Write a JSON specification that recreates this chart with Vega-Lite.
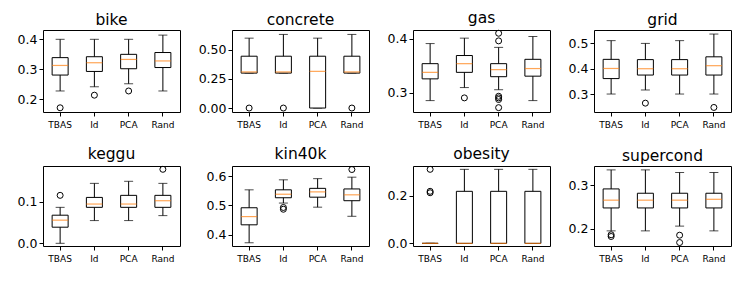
{
  "$schema": "https://vega.github.io/schema/vega-lite/v6.json",
  "background": "white",
  "padding": {"left": 16, "top": 10, "right": 8, "bottom": 4},
  "columns": 4,
  "spacing": {"row": 16, "column": 16},
  "config": {
    "font": "DejaVu Sans",
    "view": {"stroke": "black", "strokeWidth": 1},
    "axis": {"grid": false, "domain": false, "tickColor": "black", "tickSize": 4, "labelColor": "black", "labelFont": "DejaVu Sans", "labelOverlap": false},
    "axisY": {"labelFontSize": 12.5, "labelPadding": 2},
    "axisX": {"labelFontSize": 9, "labelPadding": 4},
    "title": {"fontSize": 15.5, "fontWeight": "normal", "color": "black", "offset": 2, "font": "DejaVu Sans"}
  },
  "datasets": {
    "boxes": [
      {"ds": "bike", "m": "TBAS", "lo": 0.228, "q1": 0.281, "med": 0.313, "q3": 0.339, "hi": 0.400},
      {"ds": "bike", "m": "Id", "lo": 0.242, "q1": 0.293, "med": 0.322, "q3": 0.342, "hi": 0.400},
      {"ds": "bike", "m": "PCA", "lo": 0.252, "q1": 0.302, "med": 0.333, "q3": 0.350, "hi": 0.400},
      {"ds": "bike", "m": "Rand", "lo": 0.228, "q1": 0.306, "med": 0.328, "q3": 0.356, "hi": 0.414},
      {"ds": "concrete", "m": "TBAS", "lo": 0.300, "q1": 0.300, "med": 0.310, "q3": 0.445, "hi": 0.600},
      {"ds": "concrete", "m": "Id", "lo": 0.300, "q1": 0.300, "med": 0.310, "q3": 0.445, "hi": 0.632},
      {"ds": "concrete", "m": "PCA", "lo": 0.000, "q1": 0.000, "med": 0.315, "q3": 0.445, "hi": 0.600},
      {"ds": "concrete", "m": "Rand", "lo": 0.300, "q1": 0.300, "med": 0.310, "q3": 0.445, "hi": 0.632},
      {"ds": "gas", "m": "TBAS", "lo": 0.286, "q1": 0.326, "med": 0.338, "q3": 0.354, "hi": 0.391},
      {"ds": "gas", "m": "Id", "lo": 0.310, "q1": 0.338, "med": 0.354, "q3": 0.369, "hi": 0.401},
      {"ds": "gas", "m": "PCA", "lo": 0.306, "q1": 0.330, "med": 0.343, "q3": 0.354, "hi": 0.384},
      {"ds": "gas", "m": "Rand", "lo": 0.286, "q1": 0.331, "med": 0.345, "q3": 0.362, "hi": 0.404},
      {"ds": "grid", "m": "TBAS", "lo": 0.300, "q1": 0.361, "med": 0.401, "q3": 0.437, "hi": 0.511},
      {"ds": "grid", "m": "Id", "lo": 0.316, "q1": 0.375, "med": 0.400, "q3": 0.436, "hi": 0.500},
      {"ds": "grid", "m": "PCA", "lo": 0.300, "q1": 0.375, "med": 0.400, "q3": 0.436, "hi": 0.511},
      {"ds": "grid", "m": "Rand", "lo": 0.300, "q1": 0.375, "med": 0.412, "q3": 0.447, "hi": 0.537},
      {"ds": "keggu", "m": "TBAS", "lo": 0.000, "q1": 0.039, "med": 0.056, "q3": 0.068, "hi": 0.087},
      {"ds": "keggu", "m": "Id", "lo": 0.055, "q1": 0.087, "med": 0.095, "q3": 0.111, "hi": 0.145},
      {"ds": "keggu", "m": "PCA", "lo": 0.055, "q1": 0.087, "med": 0.095, "q3": 0.116, "hi": 0.150},
      {"ds": "keggu", "m": "Rand", "lo": 0.067, "q1": 0.087, "med": 0.103, "q3": 0.116, "hi": 0.145},
      {"ds": "kin40k", "m": "TBAS", "lo": 0.373, "q1": 0.434, "med": 0.462, "q3": 0.492, "hi": 0.553},
      {"ds": "kin40k", "m": "Id", "lo": 0.508, "q1": 0.526, "med": 0.538, "q3": 0.553, "hi": 0.587},
      {"ds": "kin40k", "m": "PCA", "lo": 0.494, "q1": 0.528, "med": 0.546, "q3": 0.558, "hi": 0.591},
      {"ds": "kin40k", "m": "Rand", "lo": 0.463, "q1": 0.516, "med": 0.536, "q3": 0.556, "hi": 0.596},
      {"ds": "obesity", "m": "TBAS", "lo": 0.0, "q1": 0.0, "med": 0.0, "q3": 0.0, "hi": 0.0},
      {"ds": "obesity", "m": "Id", "lo": 0.0, "q1": 0.0, "med": 0.0, "q3": 0.218, "hi": 0.310},
      {"ds": "obesity", "m": "PCA", "lo": 0.0, "q1": 0.0, "med": 0.0, "q3": 0.218, "hi": 0.310},
      {"ds": "obesity", "m": "Rand", "lo": 0.0, "q1": 0.0, "med": 0.0, "q3": 0.218, "hi": 0.310},
      {"ds": "supercond", "m": "TBAS", "lo": 0.195, "q1": 0.248, "med": 0.266, "q3": 0.292, "hi": 0.336},
      {"ds": "supercond", "m": "Id", "lo": 0.195, "q1": 0.248, "med": 0.266, "q3": 0.282, "hi": 0.336},
      {"ds": "supercond", "m": "PCA", "lo": 0.206, "q1": 0.248, "med": 0.266, "q3": 0.282, "hi": 0.330},
      {"ds": "supercond", "m": "Rand", "lo": 0.195, "q1": 0.248, "med": 0.268, "q3": 0.282, "hi": 0.330}
    ],
    "outliers": [
      {"ds": "bike", "m": "TBAS", "v": 0.172},
      {"ds": "bike", "m": "Id", "v": 0.214},
      {"ds": "bike", "m": "PCA", "v": 0.228},
      {"ds": "concrete", "m": "TBAS", "v": 0.0},
      {"ds": "concrete", "m": "Id", "v": 0.0},
      {"ds": "concrete", "m": "Rand", "v": 0.0},
      {"ds": "gas", "m": "Id", "v": 0.291},
      {"ds": "gas", "m": "PCA", "v": 0.410},
      {"ds": "gas", "m": "PCA", "v": 0.396},
      {"ds": "gas", "m": "PCA", "v": 0.294},
      {"ds": "gas", "m": "PCA", "v": 0.291},
      {"ds": "gas", "m": "PCA", "v": 0.288},
      {"ds": "gas", "m": "PCA", "v": 0.273},
      {"ds": "grid", "m": "Id", "v": 0.264},
      {"ds": "grid", "m": "Rand", "v": 0.247},
      {"ds": "keggu", "m": "TBAS", "v": 0.116},
      {"ds": "keggu", "m": "Rand", "v": 0.179},
      {"ds": "kin40k", "m": "Id", "v": 0.493},
      {"ds": "kin40k", "m": "Id", "v": 0.487},
      {"ds": "kin40k", "m": "Rand", "v": 0.622},
      {"ds": "obesity", "m": "TBAS", "v": 0.310},
      {"ds": "obesity", "m": "TBAS", "v": 0.218},
      {"ds": "obesity", "m": "TBAS", "v": 0.212},
      {"ds": "supercond", "m": "TBAS", "v": 0.186},
      {"ds": "supercond", "m": "TBAS", "v": 0.182},
      {"ds": "supercond", "m": "PCA", "v": 0.185},
      {"ds": "supercond", "m": "PCA", "v": 0.168}
    ]
  },
  "concat": [
    {
      "title": "bike", "width": 137, "height": 82,
      "encoding": {"x": {"field": "m", "type": "nominal", "sort": ["TBAS", "Id", "PCA", "Rand"], "scale": {"paddingInner": 0, "paddingOuter": 0}, "axis": {"title": null, "labelAngle": 0}}},
      "layer": [
        {"data": {"name": "boxes"}, "transform": [{"filter": "datum.ds == 'bike'"}], "mark": {"type": "rule", "color": "black"}, "encoding": {"y": {"field": "lo", "type": "quantitative", "scale": {"domain": [0.158, 0.431], "zero": false, "nice": false}, "axis": {"title": null, "values": [0.2, 0.3, 0.4], "format": ".1f", "tickCount": 10}}, "y2": {"field": "hi"}}},
        {"data": {"name": "boxes"}, "transform": [{"filter": "datum.ds == 'bike'"}], "mark": {"type": "tick", "color": "black", "size": 9, "thickness": 1}, "encoding": {"y": {"field": "lo", "type": "quantitative"}}},
        {"data": {"name": "boxes"}, "transform": [{"filter": "datum.ds == 'bike'"}], "mark": {"type": "tick", "color": "black", "size": 9, "thickness": 1}, "encoding": {"y": {"field": "hi", "type": "quantitative"}}},
        {"data": {"name": "boxes"}, "transform": [{"filter": "datum.ds == 'bike'"}], "mark": {"type": "bar", "fill": "white", "stroke": "black", "strokeWidth": 1, "size": 16}, "encoding": {"y": {"field": "q1", "type": "quantitative"}, "y2": {"field": "q3"}}},
        {"data": {"name": "boxes"}, "transform": [{"filter": "datum.ds == 'bike'"}], "mark": {"type": "tick", "color": "#ff7f0e", "size": 16, "thickness": 1.2}, "encoding": {"y": {"field": "med", "type": "quantitative"}}},
        {"data": {"name": "outliers"}, "transform": [{"filter": "datum.ds == 'bike'"}], "mark": {"type": "point", "shape": "circle", "filled": false, "color": "black", "size": 36, "strokeWidth": 1, "opacity": 1}, "encoding": {"y": {"field": "v", "type": "quantitative"}}}
      ]
    },
    {
      "title": "concrete", "width": 137, "height": 82,
      "encoding": {"x": {"field": "m", "type": "nominal", "sort": ["TBAS", "Id", "PCA", "Rand"], "scale": {"paddingInner": 0, "paddingOuter": 0}, "axis": {"title": null, "labelAngle": 0}}},
      "layer": [
        {"data": {"name": "boxes"}, "transform": [{"filter": "datum.ds == 'concrete'"}], "mark": {"type": "rule", "color": "black"}, "encoding": {"y": {"field": "lo", "type": "quantitative", "scale": {"domain": [-0.034, 0.67], "zero": false, "nice": false}, "axis": {"title": null, "values": [0, 0.25, 0.5], "format": ".2f", "tickCount": 10}}, "y2": {"field": "hi"}}},
        {"data": {"name": "boxes"}, "transform": [{"filter": "datum.ds == 'concrete'"}], "mark": {"type": "tick", "color": "black", "size": 9, "thickness": 1}, "encoding": {"y": {"field": "lo", "type": "quantitative"}}},
        {"data": {"name": "boxes"}, "transform": [{"filter": "datum.ds == 'concrete'"}], "mark": {"type": "tick", "color": "black", "size": 9, "thickness": 1}, "encoding": {"y": {"field": "hi", "type": "quantitative"}}},
        {"data": {"name": "boxes"}, "transform": [{"filter": "datum.ds == 'concrete'"}], "mark": {"type": "bar", "fill": "white", "stroke": "black", "strokeWidth": 1, "size": 16}, "encoding": {"y": {"field": "q1", "type": "quantitative"}, "y2": {"field": "q3"}}},
        {"data": {"name": "boxes"}, "transform": [{"filter": "datum.ds == 'concrete'"}], "mark": {"type": "tick", "color": "#ff7f0e", "size": 16, "thickness": 1.2}, "encoding": {"y": {"field": "med", "type": "quantitative"}}},
        {"data": {"name": "outliers"}, "transform": [{"filter": "datum.ds == 'concrete'"}], "mark": {"type": "point", "shape": "circle", "filled": false, "color": "black", "size": 36, "strokeWidth": 1, "opacity": 1}, "encoding": {"y": {"field": "v", "type": "quantitative"}}}
      ]
    },
    {
      "title": "gas", "width": 137, "height": 82,
      "encoding": {"x": {"field": "m", "type": "nominal", "sort": ["TBAS", "Id", "PCA", "Rand"], "scale": {"paddingInner": 0, "paddingOuter": 0}, "axis": {"title": null, "labelAngle": 0}}},
      "layer": [
        {"data": {"name": "boxes"}, "transform": [{"filter": "datum.ds == 'gas'"}], "mark": {"type": "rule", "color": "black"}, "encoding": {"y": {"field": "lo", "type": "quantitative", "scale": {"domain": [0.265, 0.416], "zero": false, "nice": false}, "axis": {"title": null, "values": [0.3, 0.4], "format": ".1f", "tickCount": 10}}, "y2": {"field": "hi"}}},
        {"data": {"name": "boxes"}, "transform": [{"filter": "datum.ds == 'gas'"}], "mark": {"type": "tick", "color": "black", "size": 9, "thickness": 1}, "encoding": {"y": {"field": "lo", "type": "quantitative"}}},
        {"data": {"name": "boxes"}, "transform": [{"filter": "datum.ds == 'gas'"}], "mark": {"type": "tick", "color": "black", "size": 9, "thickness": 1}, "encoding": {"y": {"field": "hi", "type": "quantitative"}}},
        {"data": {"name": "boxes"}, "transform": [{"filter": "datum.ds == 'gas'"}], "mark": {"type": "bar", "fill": "white", "stroke": "black", "strokeWidth": 1, "size": 16}, "encoding": {"y": {"field": "q1", "type": "quantitative"}, "y2": {"field": "q3"}}},
        {"data": {"name": "boxes"}, "transform": [{"filter": "datum.ds == 'gas'"}], "mark": {"type": "tick", "color": "#ff7f0e", "size": 16, "thickness": 1.2}, "encoding": {"y": {"field": "med", "type": "quantitative"}}},
        {"data": {"name": "outliers"}, "transform": [{"filter": "datum.ds == 'gas'"}], "mark": {"type": "point", "shape": "circle", "filled": false, "color": "black", "size": 36, "strokeWidth": 1, "opacity": 1}, "encoding": {"y": {"field": "v", "type": "quantitative"}}}
      ]
    },
    {
      "title": "grid", "width": 137, "height": 82,
      "encoding": {"x": {"field": "m", "type": "nominal", "sort": ["TBAS", "Id", "PCA", "Rand"], "scale": {"paddingInner": 0, "paddingOuter": 0}, "axis": {"title": null, "labelAngle": 0}}},
      "layer": [
        {"data": {"name": "boxes"}, "transform": [{"filter": "datum.ds == 'grid'"}], "mark": {"type": "rule", "color": "black"}, "encoding": {"y": {"field": "lo", "type": "quantitative", "scale": {"domain": [0.229, 0.553], "zero": false, "nice": false}, "axis": {"title": null, "values": [0.3, 0.4, 0.5], "format": ".1f", "tickCount": 10}}, "y2": {"field": "hi"}}},
        {"data": {"name": "boxes"}, "transform": [{"filter": "datum.ds == 'grid'"}], "mark": {"type": "tick", "color": "black", "size": 9, "thickness": 1}, "encoding": {"y": {"field": "lo", "type": "quantitative"}}},
        {"data": {"name": "boxes"}, "transform": [{"filter": "datum.ds == 'grid'"}], "mark": {"type": "tick", "color": "black", "size": 9, "thickness": 1}, "encoding": {"y": {"field": "hi", "type": "quantitative"}}},
        {"data": {"name": "boxes"}, "transform": [{"filter": "datum.ds == 'grid'"}], "mark": {"type": "bar", "fill": "white", "stroke": "black", "strokeWidth": 1, "size": 16}, "encoding": {"y": {"field": "q1", "type": "quantitative"}, "y2": {"field": "q3"}}},
        {"data": {"name": "boxes"}, "transform": [{"filter": "datum.ds == 'grid'"}], "mark": {"type": "tick", "color": "#ff7f0e", "size": 16, "thickness": 1.2}, "encoding": {"y": {"field": "med", "type": "quantitative"}}},
        {"data": {"name": "outliers"}, "transform": [{"filter": "datum.ds == 'grid'"}], "mark": {"type": "point", "shape": "circle", "filled": false, "color": "black", "size": 36, "strokeWidth": 1, "opacity": 1}, "encoding": {"y": {"field": "v", "type": "quantitative"}}}
      ]
    },
    {
      "title": "keggu", "width": 137, "height": 80,
      "encoding": {"x": {"field": "m", "type": "nominal", "sort": ["TBAS", "Id", "PCA", "Rand"], "scale": {"paddingInner": 0, "paddingOuter": 0}, "axis": {"title": null, "labelAngle": 0}}},
      "layer": [
        {"data": {"name": "boxes"}, "transform": [{"filter": "datum.ds == 'keggu'"}], "mark": {"type": "rule", "color": "black"}, "encoding": {"y": {"field": "lo", "type": "quantitative", "scale": {"domain": [-0.0065, 0.187], "zero": false, "nice": false}, "axis": {"title": null, "values": [0, 0.1], "format": ".1f", "tickCount": 10}}, "y2": {"field": "hi"}}},
        {"data": {"name": "boxes"}, "transform": [{"filter": "datum.ds == 'keggu'"}], "mark": {"type": "tick", "color": "black", "size": 9, "thickness": 1}, "encoding": {"y": {"field": "lo", "type": "quantitative"}}},
        {"data": {"name": "boxes"}, "transform": [{"filter": "datum.ds == 'keggu'"}], "mark": {"type": "tick", "color": "black", "size": 9, "thickness": 1}, "encoding": {"y": {"field": "hi", "type": "quantitative"}}},
        {"data": {"name": "boxes"}, "transform": [{"filter": "datum.ds == 'keggu'"}], "mark": {"type": "bar", "fill": "white", "stroke": "black", "strokeWidth": 1, "size": 16}, "encoding": {"y": {"field": "q1", "type": "quantitative"}, "y2": {"field": "q3"}}},
        {"data": {"name": "boxes"}, "transform": [{"filter": "datum.ds == 'keggu'"}], "mark": {"type": "tick", "color": "#ff7f0e", "size": 16, "thickness": 1.2}, "encoding": {"y": {"field": "med", "type": "quantitative"}}},
        {"data": {"name": "outliers"}, "transform": [{"filter": "datum.ds == 'keggu'"}], "mark": {"type": "point", "shape": "circle", "filled": false, "color": "black", "size": 36, "strokeWidth": 1, "opacity": 1}, "encoding": {"y": {"field": "v", "type": "quantitative"}}}
      ]
    },
    {
      "title": "kin40k", "width": 137, "height": 80,
      "encoding": {"x": {"field": "m", "type": "nominal", "sort": ["TBAS", "Id", "PCA", "Rand"], "scale": {"paddingInner": 0, "paddingOuter": 0}, "axis": {"title": null, "labelAngle": 0}}},
      "layer": [
        {"data": {"name": "boxes"}, "transform": [{"filter": "datum.ds == 'kin40k'"}], "mark": {"type": "rule", "color": "black"}, "encoding": {"y": {"field": "lo", "type": "quantitative", "scale": {"domain": [0.362, 0.634], "zero": false, "nice": false}, "axis": {"title": null, "values": [0.4, 0.5, 0.6], "format": ".1f", "tickCount": 10}}, "y2": {"field": "hi"}}},
        {"data": {"name": "boxes"}, "transform": [{"filter": "datum.ds == 'kin40k'"}], "mark": {"type": "tick", "color": "black", "size": 9, "thickness": 1}, "encoding": {"y": {"field": "lo", "type": "quantitative"}}},
        {"data": {"name": "boxes"}, "transform": [{"filter": "datum.ds == 'kin40k'"}], "mark": {"type": "tick", "color": "black", "size": 9, "thickness": 1}, "encoding": {"y": {"field": "hi", "type": "quantitative"}}},
        {"data": {"name": "boxes"}, "transform": [{"filter": "datum.ds == 'kin40k'"}], "mark": {"type": "bar", "fill": "white", "stroke": "black", "strokeWidth": 1, "size": 16}, "encoding": {"y": {"field": "q1", "type": "quantitative"}, "y2": {"field": "q3"}}},
        {"data": {"name": "boxes"}, "transform": [{"filter": "datum.ds == 'kin40k'"}], "mark": {"type": "tick", "color": "#ff7f0e", "size": 16, "thickness": 1.2}, "encoding": {"y": {"field": "med", "type": "quantitative"}}},
        {"data": {"name": "outliers"}, "transform": [{"filter": "datum.ds == 'kin40k'"}], "mark": {"type": "point", "shape": "circle", "filled": false, "color": "black", "size": 36, "strokeWidth": 1, "opacity": 1}, "encoding": {"y": {"field": "v", "type": "quantitative"}}}
      ]
    },
    {
      "title": "obesity", "width": 137, "height": 80,
      "encoding": {"x": {"field": "m", "type": "nominal", "sort": ["TBAS", "Id", "PCA", "Rand"], "scale": {"paddingInner": 0, "paddingOuter": 0}, "axis": {"title": null, "labelAngle": 0}}},
      "layer": [
        {"data": {"name": "boxes"}, "transform": [{"filter": "datum.ds == 'obesity'"}], "mark": {"type": "rule", "color": "black"}, "encoding": {"y": {"field": "lo", "type": "quantitative", "scale": {"domain": [-0.011, 0.324], "zero": false, "nice": false}, "axis": {"title": null, "values": [0, 0.2], "format": ".1f", "tickCount": 10}}, "y2": {"field": "hi"}}},
        {"data": {"name": "boxes"}, "transform": [{"filter": "datum.ds == 'obesity'"}], "mark": {"type": "tick", "color": "black", "size": 9, "thickness": 1}, "encoding": {"y": {"field": "lo", "type": "quantitative"}}},
        {"data": {"name": "boxes"}, "transform": [{"filter": "datum.ds == 'obesity'"}], "mark": {"type": "tick", "color": "black", "size": 9, "thickness": 1}, "encoding": {"y": {"field": "hi", "type": "quantitative"}}},
        {"data": {"name": "boxes"}, "transform": [{"filter": "datum.ds == 'obesity'"}], "mark": {"type": "bar", "fill": "white", "stroke": "black", "strokeWidth": 1, "size": 16}, "encoding": {"y": {"field": "q1", "type": "quantitative"}, "y2": {"field": "q3"}}},
        {"data": {"name": "boxes"}, "transform": [{"filter": "datum.ds == 'obesity'"}], "mark": {"type": "tick", "color": "#ff7f0e", "size": 16, "thickness": 1.2}, "encoding": {"y": {"field": "med", "type": "quantitative"}}},
        {"data": {"name": "outliers"}, "transform": [{"filter": "datum.ds == 'obesity'"}], "mark": {"type": "point", "shape": "circle", "filled": false, "color": "black", "size": 36, "strokeWidth": 1, "opacity": 1}, "encoding": {"y": {"field": "v", "type": "quantitative"}}}
      ]
    },
    {
      "title": "supercond", "width": 137, "height": 80,
      "encoding": {"x": {"field": "m", "type": "nominal", "sort": ["TBAS", "Id", "PCA", "Rand"], "scale": {"paddingInner": 0, "paddingOuter": 0}, "axis": {"title": null, "labelAngle": 0}}},
      "layer": [
        {"data": {"name": "boxes"}, "transform": [{"filter": "datum.ds == 'supercond'"}], "mark": {"type": "rule", "color": "black"}, "encoding": {"y": {"field": "lo", "type": "quantitative", "scale": {"domain": [0.160, 0.345], "zero": false, "nice": false}, "axis": {"title": null, "values": [0.2, 0.3], "format": ".1f", "tickCount": 10}}, "y2": {"field": "hi"}}},
        {"data": {"name": "boxes"}, "transform": [{"filter": "datum.ds == 'supercond'"}], "mark": {"type": "tick", "color": "black", "size": 9, "thickness": 1}, "encoding": {"y": {"field": "lo", "type": "quantitative"}}},
        {"data": {"name": "boxes"}, "transform": [{"filter": "datum.ds == 'supercond'"}], "mark": {"type": "tick", "color": "black", "size": 9, "thickness": 1}, "encoding": {"y": {"field": "hi", "type": "quantitative"}}},
        {"data": {"name": "boxes"}, "transform": [{"filter": "datum.ds == 'supercond'"}], "mark": {"type": "bar", "fill": "white", "stroke": "black", "strokeWidth": 1, "size": 16}, "encoding": {"y": {"field": "q1", "type": "quantitative"}, "y2": {"field": "q3"}}},
        {"data": {"name": "boxes"}, "transform": [{"filter": "datum.ds == 'supercond'"}], "mark": {"type": "tick", "color": "#ff7f0e", "size": 16, "thickness": 1.2}, "encoding": {"y": {"field": "med", "type": "quantitative"}}},
        {"data": {"name": "outliers"}, "transform": [{"filter": "datum.ds == 'supercond'"}], "mark": {"type": "point", "shape": "circle", "filled": false, "color": "black", "size": 36, "strokeWidth": 1, "opacity": 1}, "encoding": {"y": {"field": "v", "type": "quantitative"}}}
      ]
    }
  ]
}
